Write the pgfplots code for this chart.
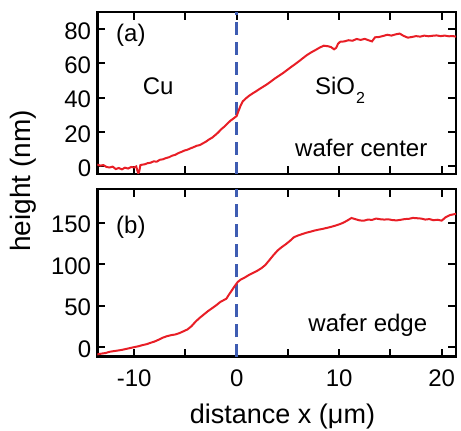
\documentclass[border=0pt]{standalone}
\usepackage{fontspec}
\setmainfont{Liberation Sans}
\usepackage{pgfplots}
\pgfplotsset{compat=1.18}

\definecolor{redline}{RGB}{232,30,38}
\definecolor{blueline}{RGB}{62,92,178}

\newcommand{\labelfont}{\fontsize{24}{28}\selectfont}

\pgfplotsset{
  panel/.style={
    scale only axis, width=358.7pt,
    xmin=-13.6, xmax=21.4,
    xtick={-10,-5,...,20},
    tick align=inside, major tick length=8pt,
    axis line style={line width=2.4pt},
    tick style={line width=2pt, black},
    tick label style={font=\labelfont},
    yticklabel style={anchor=east, inner sep=0pt, xshift=-6pt, yshift=-2pt},
    xticklabel style={anchor=base, inner sep=0pt, yshift=-30pt},
    /pgf/number format/assume math mode=true,
  },
  profile/.style={redline, line width=2pt, no markers},
  divider/.style={blueline, line width=3.5pt, dash pattern=on 13pt off 7pt},
}

\begin{document}
\begin{tikzpicture}
\path[use as bounding box] (0pt,0pt) rectangle (461pt,431pt);

% (a) wafer center
\begin{axis}[panel, at={(97.3pt,257pt)}, anchor=south west, height=162pt,
  ymin=-4.7, ymax=90, ytick={0,20,...,80}, xticklabels={,,,,,,}]
\addplot[divider] coordinates {(0,-5) (0,90)};
\addplot[profile] coordinates {
(-13.6,0.8) (-13.3,0.2) (-13.0,0.5) (-12.7,-0.6) (-12.4,-0.9) (-12.1,-0.4)
(-11.8,-1.8) (-11.5,-1.2) (-11.2,-2.0) (-10.9,-1.0) (-10.6,-1.5) (-10.3,-0.6)
(-10.0,-0.9) (-9.8,-0.3) (-9.7,-2.5) (-9.6,-4.3) (-9.5,-3.0) (-9.4,0.4)
(-9.2,0.8) (-9.0,0.9) (-8.7,1.6) (-8.4,1.9) (-8.1,2.7) (-7.8,2.5)
(-7.5,3.6) (-7.2,3.9) (-6.9,4.6) (-6.6,5.1) (-6.3,6.0) (-6.0,6.5)
(-5.7,7.5) (-5.4,8.2) (-5.1,9.0) (-4.8,9.5) (-4.5,10.3) (-4.2,11.0)
(-3.9,11.8) (-3.6,12.2) (-3.3,13.2) (-3.0,14.2) (-2.7,15.5) (-2.4,16.5)
(-2.1,18.0) (-1.8,19.6) (-1.5,21.5) (-1.2,23.0) (-0.9,24.8) (-0.6,26.5)
(-0.3,27.8) (0.0,29.2) (0.2,32.5) (0.4,35.5) (0.6,37.8) (0.9,39.5)
(1.2,41.0) (1.5,42.2) (1.8,43.3) (2.1,44.5) (2.5,46.0) (2.9,47.5)
(3.3,49.2) (3.7,51.0) (4.1,52.6) (4.5,54.2) (4.9,56.0) (5.3,57.8)
(5.7,59.5) (6.1,61.3) (6.5,63.2) (6.9,65.0) (7.3,66.5) (7.7,67.8)
(8.1,69.2) (8.5,70.3) (8.9,70.0) (9.2,69.5) (9.5,68.2) (9.7,69.0)
(9.9,71.5) (10.1,72.6) (10.5,72.8) (10.9,73.5) (11.3,73.2) (11.7,74.2)
(12.1,73.7) (12.5,74.3) (12.9,73.4) (13.2,72.8) (13.5,75.2) (13.9,75.4)
(14.3,76.0) (14.7,76.7) (15.1,76.2) (15.5,76.9) (15.9,77.4) (16.3,76.0)
(16.7,75.0) (17.1,75.4) (17.5,75.9) (17.9,75.6) (18.3,76.2) (18.7,75.8)
(19.1,76.1) (19.5,76.3) (19.9,75.9) (20.3,76.2) (20.7,75.8) (21.1,75.9)
(21.4,75.6)
};
\node[anchor=base west, font=\labelfont] at (axis cs:-12.1,72.7) {(a)};
\node[anchor=base west, font=\labelfont] at (axis cs:-9.5,41.5) {Cu};
\node[anchor=base west, font=\labelfont] at (axis cs:7.3,41.5)
  {SiO\kern1pt\raisebox{-9pt}{\fontsize{16}{18}\selectfont 2}};
\node[anchor=base west, font=\labelfont] at (axis cs:5.37,5.4) {wafer center};
\end{axis}

% (b) wafer edge
\begin{axis}[panel, at={(97.3pt,74.3pt)}, anchor=south west, height=167.4pt,
  ymin=-11.3, ymax=190, ytick={0,50,100,150},
  xticklabels={-10,,0,,10,,20}]
\addplot[divider] coordinates {(0,-12) (0,190)};
\addplot[profile] coordinates {
(-13.6,-8.5) (-13.2,-7.6) (-12.8,-6.9) (-12.4,-5.4) (-12.0,-4.6) (-11.6,-3.9)
(-11.2,-3.1) (-10.8,-2.0) (-10.4,-0.9) (-10.0,0.2) (-9.6,1.2) (-9.2,2.6)
(-8.8,3.7) (-8.4,5.4) (-8.0,7.0) (-7.6,9.2) (-7.2,11.6) (-6.8,13.4)
(-6.4,14.6) (-6.0,15.4) (-5.6,17.0) (-5.2,19.2) (-4.8,21.5) (-4.4,25.5)
(-4.0,31.0) (-3.6,35.5) (-3.2,39.5) (-2.8,43.5) (-2.4,47.0) (-2.0,50.5)
(-1.6,54.5) (-1.3,56.5) (-1.0,58.5) (-0.8,62.5) (-0.5,68.0) (-0.2,73.5)
(0.1,78.5) (0.4,81.5) (0.8,84.0) (1.2,87.0) (1.6,89.5) (2.0,92.0)
(2.4,95.0) (2.8,99.0) (3.2,105.0) (3.6,111.0) (4.0,116.5) (4.4,120.5)
(4.8,124.0) (5.2,128.0) (5.6,132.5) (6.0,134.5) (6.4,136.2) (6.8,137.8)
(7.2,139.0) (7.6,140.4) (8.0,141.5) (8.4,142.4) (8.8,143.6) (9.2,144.8)
(9.6,146.2) (10.0,147.8) (10.4,149.8) (10.8,152.5) (11.2,155.5) (11.6,154.0)
(12.0,152.6) (12.4,152.2) (12.8,153.6) (13.2,153.2) (13.6,154.8) (14.0,154.0)
(14.4,153.6) (14.8,153.9) (15.2,153.0) (15.6,152.6) (16.0,153.3) (16.4,154.2)
(16.8,154.5) (17.2,155.6) (17.6,155.2) (18.0,154.8) (18.4,153.6) (18.8,154.2)
(19.2,152.8) (19.6,153.4) (20.0,152.3) (20.4,156.5) (20.8,159.0) (21.2,160.0)
(21.4,160.5)
};
\node[anchor=base west, font=\labelfont] at (axis cs:-12.1,137) {(b)};
\node[anchor=base west, font=\labelfont] at (axis cs:6.66,18.8) {wafer edge};
\end{axis}

\node[rotate=90, font=\fontsize{28}{32}\selectfont] at (23pt,250pt) {height (nm)};
\node[anchor=base, font=\fontsize{27}{32}\selectfont] at (282.5pt,7.7pt) {distance x (μm)};
\end{tikzpicture}
\end{document}
